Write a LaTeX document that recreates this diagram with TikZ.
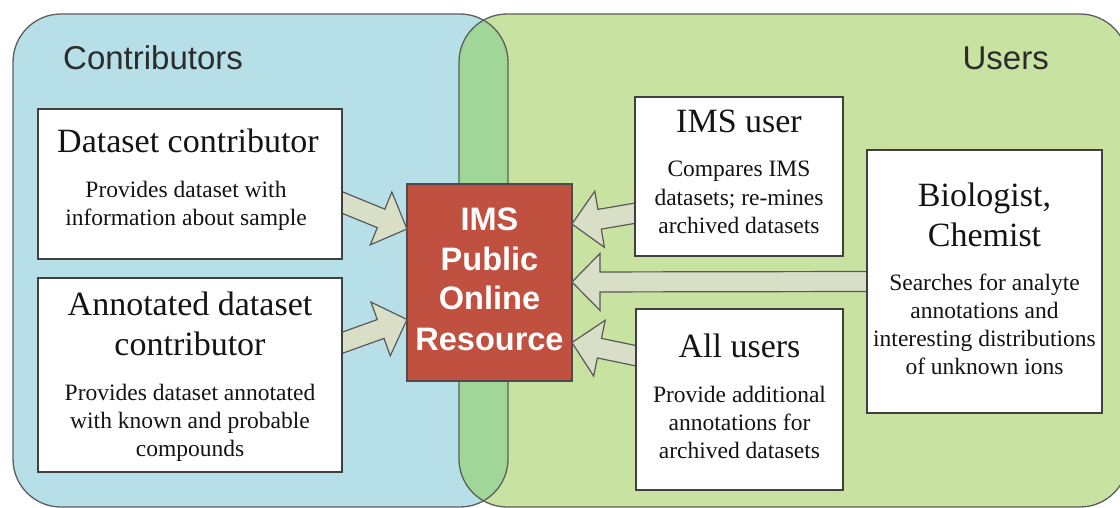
\documentclass[tikz,border=0pt]{standalone}
\usepackage{fontspec}
\setmainfont{Liberation Serif}
\newfontfamily\hsans{Liberation Sans}
\usetikzlibrary{calc}
\definecolor{bluebg}{HTML}{B7DFE8}
\definecolor{greenbg}{HTML}{C8E2A2}
\definecolor{overlapbg}{HTML}{A0D697}
\definecolor{redbox}{HTML}{C0503F}
\definecolor{arrowfill}{HTML}{D9DFC6}
\definecolor{edge}{HTML}{5E5E5E}
\definecolor{ink}{HTML}{141414}
\newcommand\ml[1]{\begin{tabular}[t]{@{}c@{}}#1\end{tabular}}
\newcommand\blockarrow[2]{%
  \path #1 coordinate (bT) #2 coordinate (bP);
  \path ($(bP)!28pt!(bT)$) coordinate (bQ);
  \draw[blockarrowsty] ($(bT)!10pt!90:(bP)$) -- ($(bQ)!10pt!90:(bP)$) -- ($(bQ)!28.5pt!90:(bP)$) -- (bP) -- ($(bQ)!28.5pt!-90:(bP)$) -- ($(bQ)!10pt!-90:(bP)$) -- ($(bT)!10pt!-90:(bP)$) -- cycle;}
\tikzset{
  region/.style={rounded corners=48pt},
  regionedge/.style={draw=edge, line width=1.3pt, rounded corners=48pt},
  rolebox/.style={draw=black!75, line width=1.6pt, fill=white, inner sep=0pt, outer sep=0pt},
  hubbox/.style={draw=black!70, line width=1.2pt, fill=redbox, inner sep=0pt, outer sep=0pt},
  blockarrowsty/.style={fill=arrowfill, draw=black!65, line width=1.2pt, line join=miter},
  title/.style={font=\fontsize{34}{40}\selectfont, text=ink, anchor=base, inner sep=0pt},
  desc/.style={font=\fontsize{23.5}{28.3}\selectfont, text=ink, anchor=base, inner sep=0pt},
  heading/.style={font=\hsans\fontsize{33}{38}\selectfont, text=ink!90, inner sep=0pt},
  hubtext/.style={font=\hsans\bfseries\fontsize{32.5}{40}\selectfont, text=white, anchor=base, inner sep=0pt}
}
\begin{document}
\begin{tikzpicture}[x=1pt, y=-1pt]
\path[use as bounding box] (0,0) rectangle (1120,508);
% background regions
\fill[bluebg, region] (13,14) rectangle (508,507);
\fill[greenbg, region] (459,14) rectangle (1128,507);
\begin{scope}
  \clip[region] (13,14) rectangle (508,507);
  \fill[overlapbg, region] (459,14) rectangle (1128,507);
\end{scope}
\draw[regionedge] (13,14) rectangle (508,507);
\draw[regionedge] (459,14) rectangle (1128,507);
\node[heading, anchor=base west] (hcontrib) at (63,70) {Contributors};
\node[heading, anchor=base east] (husers) at (1049,70) {Users};
% hub
\node[hubbox, minimum width=165pt, minimum height=197pt] (red) at (489.5,282.5) {};
\node[hubtext] (redtxt) at (489.5,230) {\ml{IMS\\Public\\Online\\Resource}};
% box nodes (positions only, drawn after the arrows)
\path (190,184) coordinate (dsc) (190,375) coordinate (anc) (739,176.5) coordinate (imc)
      (984.5,281.5) coordinate (bioc) (739.5,399.5) coordinate (allc);
\path (dsc) node[minimum width=304pt, minimum height=150pt, inner sep=0pt, outer sep=0pt] (ds) {};
\path (anc) node[minimum width=304pt, minimum height=194pt, inner sep=0pt, outer sep=0pt] (an) {};
\path (imc) node[minimum width=208pt, minimum height=159pt, inner sep=0pt, outer sep=0pt] (imsu) {};
\path (bioc) node[minimum width=235pt, minimum height=263pt, inner sep=0pt, outer sep=0pt] (bio) {};
\path (allc) node[minimum width=207pt, minimum height=181pt, inner sep=0pt, outer sep=0pt] (allu) {};
% arrows
\blockarrow{($(ds.east)+(-6,16)$)}{($(red.west)+(0,-53.5)$)}
\blockarrow{($(an.east)+(-6,-30)$)}{($(red.west)+(0,37)$)}
\blockarrow{($(imsu.west)+(7,35.5)$)}{($(red.east)+(0,-58.5)$)}
\blockarrow{($(bio.west)+(6,0)$)}{($(red.east)+(0,-0.5)$)}
\blockarrow{($(allu.west)+(6,-42.5)$)}{($(red.east)+(0,60)$)}
% boxes
\node[rolebox, minimum width=304pt, minimum height=150pt] (dsbox) at (dsc) {};
\node[rolebox, minimum width=304pt, minimum height=194pt] (anbox) at (anc) {};
\node[rolebox, minimum width=208pt, minimum height=159pt] (imsubox) at (imc) {};
\node[rolebox, minimum width=235pt, minimum height=263pt] (biobox) at (bioc) {};
\node[rolebox, minimum width=207pt, minimum height=181pt] (allubox) at (allc) {};
% texts
\node[title] (dst) at (188,153) {Dataset contributor};
\node[desc] (dsd) at (186,197) {\ml{Provides dataset with\\information about sample}};
\node[title] (ant) at (190,315) {\ml{Annotated dataset\\contributor}};
\node[desc] (and) at (190,400) {\ml{Provides dataset annotated\\with known and probable\\compounds}};
\node[title] (imt) at (739,133) {IMS user};
\node[desc] (imd) at (739,177) {\ml{Compares IMS\\datasets; re-mines\\archived datasets}};
\node[title] (biot) at (984.5,207) {\ml{Biologist,\\Chemist}};
\node[desc] (biod) at (984.5,290) {\ml{Searches for analyte\\annotations and\\interesting distributions\\of unknown ions}};
\node[title] (allt) at (739.5,357) {All users};
\node[desc] (alld) at (739.5,402) {\ml{Provide additional\\annotations for\\archived datasets}};
\end{tikzpicture}
\end{document}
